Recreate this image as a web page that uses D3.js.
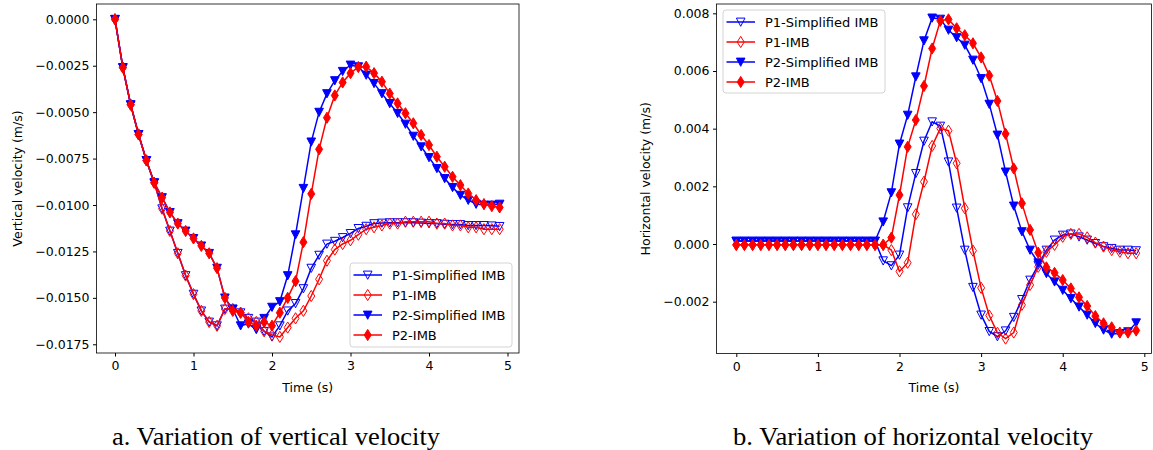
<!DOCTYPE html>
<html>
<head>
<meta charset="utf-8">
<script src="https://cdn.jsdelivr.net/npm/d3@7"></script>
<style>
  body { margin: 0; background: #fff; }
  text { font-family: "DejaVu Sans", sans-serif; fill: #000; }
  text.caption { font-family: "Liberation Serif", "Times New Roman", serif; }
</style>
</head>
<body>
<svg id="fig" width="1153" height="450"></svg>
<script>
// time (s)
const time = [0.0, 0.1, 0.2, 0.3, 0.4, 0.5, 0.6, 0.7, 0.8, 0.9,
  1.0, 1.1, 1.2, 1.3, 1.4, 1.5, 1.6, 1.7, 1.8, 1.9,
  2.0, 2.1, 2.2, 2.3, 2.4, 2.5, 2.6, 2.7, 2.8, 2.9,
  3.0, 3.1, 3.2, 3.3, 3.4, 3.5, 3.6, 3.7, 3.8, 3.9,
  4.0, 4.1, 4.2, 4.3, 4.4, 4.5, 4.6, 4.7, 4.8, 4.9];

const seriesNames = ['P1-Simplified IMB', 'P1-IMB', 'P2-Simplified IMB', 'P2-IMB'];

// a. vertical velocity (m/s)
const vertP1Simp = [0, -0.0026, -0.0046, -0.0062, -0.0076, -0.0088, -0.0102, -0.0114, -0.0126, -0.0138,
  -0.0148, -0.0157, -0.0163, -0.0165, -0.0156, -0.0156, -0.0158, -0.0161, -0.0163, -0.0168,
  -0.0171, -0.0165, -0.0157, -0.0153, -0.0145, -0.0134, -0.0127, -0.0121, -0.01195, -0.01175,
  -0.01153, -0.01126, -0.01114, -0.0110, -0.01097, -0.01095, -0.01095, -0.01095, -0.01095, -0.01097,
  -0.0110, -0.0110, -0.01103, -0.01105, -0.01105, -0.0111, -0.0111, -0.0111, -0.01112, -0.01115];
const vertP1Imb = [0, -0.0026, -0.0046, -0.0062, -0.0076, -0.0088, -0.0102, -0.0114, -0.0126, -0.0138,
  -0.0148, -0.0157, -0.0163, -0.0165, -0.0156, -0.0156, -0.0158, -0.0161, -0.0163, -0.0168,
  -0.0170, -0.0171, -0.0166, -0.0161, -0.0157, -0.0149, -0.0140, -0.0130, -0.0124, -0.0121,
  -0.0119, -0.0116, -0.0113, -0.0112, -0.0111, -0.0110, -0.0110, -0.0109, -0.0109, -0.0109,
  -0.0109, -0.0110, -0.0110, -0.0111, -0.0111, -0.0112, -0.0112, -0.0113, -0.0113, -0.0113];
const vertP2Simp = [0, -0.0026, -0.0046, -0.0062, -0.0076, -0.0088, -0.0096, -0.0104, -0.0110, -0.0114,
  -0.0118, -0.0122, -0.0126, -0.0134, -0.0150, -0.0156, -0.0165, -0.0164, -0.0167, -0.0161,
  -0.0155, -0.0152, -0.0138, -0.0116, -0.0091, -0.0066, -0.0050, -0.0040, -0.0033, -0.0028,
  -0.00246, -0.00255, -0.0030, -0.00345, -0.0040, -0.00453, -0.00506, -0.00564, -0.00629, -0.00686,
  -0.00744, -0.00803, -0.00857, -0.00905, -0.00947, -0.00974, -0.00995, -0.0100, -0.0100, -0.00995];
const vertP2Imb = [0, -0.0026, -0.0046, -0.0062, -0.0076, -0.0088, -0.0096, -0.0104, -0.0110, -0.0114,
  -0.0118, -0.0122, -0.0126, -0.0134, -0.0150, -0.0157, -0.0158, -0.0163, -0.0165, -0.0163,
  -0.0165, -0.0158, -0.0150, -0.0141, -0.0120, -0.0094, -0.0070, -0.0053, -0.0041, -0.0034,
  -0.0029, -0.00257, -0.00255, -0.0029, -0.00336, -0.0040, -0.00453, -0.00506, -0.0056, -0.00623,
  -0.00677, -0.0074, -0.00794, -0.00848, -0.00893, -0.00938, -0.00974, -0.00995, -0.01006, -0.01013];

// b. horizontal velocity (m/s)
const horP1Simp = [0.0001, 0.0001, 0.0001, 0.0001, 0.0001, 0.0001, 0.0001, 0.0001, 0.0001, 0.0001,
  0.0001, 0.0001, 0.0001, 0.0001, 0.0001, 0.0001, 0.0001, 0.0001, -0.00058, -0.00075,
  -0.00038, 0.00126, 0.00245, 0.00357, 0.00424, 0.00409, 0.00285, 0.00125, -0.00021, -0.00150,
  -0.00246, -0.00303, -0.00321, -0.00301, -0.00254, -0.00192, -0.00125, -0.00073, -0.00021, 0.00014,
  0.00031, 0.00035, 0.00025, 0.00014, 0.00002, -0.00009, -0.00015, -0.00021, -0.00021, -0.00023];
const horP1Imb = [-0.00003, -0.00003, -0.00003, -0.00003, -0.00003, -0.00003, -0.00003, -0.00003, -0.00003, -0.00003,
  -0.00003, -0.00003, -0.00003, -0.00003, -0.00003, -0.00003, -0.00003, -0.00003, -0.00003, -0.00021,
  -0.00095, -0.00065, 0.00103, 0.00216, 0.00340, 0.00401, 0.00393, 0.00280, 0.00124, -0.00023,
  -0.00152, -0.00248, -0.00308, -0.00328, -0.00307, -0.00211, -0.00142, -0.00079, -0.00027, -0.00003,
  0.00025, 0.00035, 0.00035, 0.00023, 0.00005, -0.00009, -0.00021, -0.00027, -0.00032, -0.00032];
const horP2Simp = [0.0001, 0.0001, 0.0001, 0.0001, 0.0001, 0.0001, 0.0001, 0.0001, 0.0001, 0.0001,
  0.0001, 0.0001, 0.0001, 0.0001, 0.0001, 0.0001, 0.0001, 0.0001, 0.00077, 0.00178,
  0.00347, 0.00447, 0.00580, 0.00705, 0.00784, 0.00780, 0.00742, 0.00716, 0.00690, 0.00638,
  0.00574, 0.00485, 0.00378, 0.00250, 0.00132, 0.00043, -0.00021, -0.00065, -0.00102, -0.00131,
  -0.00160, -0.00189, -0.00218, -0.00246, -0.00275, -0.00298, -0.00312, -0.00310, -0.00304, -0.00273];
const horP2Imb = [-0.00003, -0.00003, -0.00003, -0.00003, -0.00003, -0.00003, -0.00003, -0.00003, -0.00003, -0.00003,
  -0.00003, -0.00003, -0.00003, -0.00003, -0.00003, -0.00003, -0.00003, -0.00003, -0.00003, 0.00022,
  0.00170, 0.00337, 0.00430, 0.00548, 0.00678, 0.00774, 0.00779, 0.00748, 0.00724, 0.00696,
  0.00647, 0.00584, 0.00496, 0.00382, 0.00262, 0.00141, 0.00049, -0.00030, -0.00081, -0.00100,
  -0.00125, -0.00154, -0.00185, -0.00215, -0.00250, -0.00275, -0.00289, -0.00307, -0.00307, -0.00300];

// tick labels
const xTicks = [0, 1, 2, 3, 4, 5];
const vertTicks = [0, -0.0025, -0.005, -0.0075, -0.01, -0.0125, -0.015, -0.0175];
const horTicks = [0.008, 0.006, 0.004, 0.002, 0, -0.002];

const svg = d3.select('#fig');
svg.append('rect').attr('width', 1153).attr('height', 450).attr('fill', '#fff');

// marker style per series: blue/red, triangle-down / thin diamond, open / filled
const styles = [
  { color: '#0000ff', shape: 'tri', filled: false },
  { color: '#ff0000', shape: 'dia', filled: false },
  { color: '#0000ff', shape: 'tri', filled: true },
  { color: '#ff0000', shape: 'dia', filled: true }
];

function markerPath(shape) {
  if (shape === 'tri') return 'M-4.3,-3.9L4.3,-3.9L0,4.3Z';
  return 'M0,-5.6L3.5,0L0,5.6L-3.5,0Z';
}

function panel(p) {
  const g = svg.append('g');
  const x = d3.scaleLinear().domain(p.xDomain).range([p.left, p.right]);
  const y = d3.scaleLinear().domain(p.yDomain).range([p.bottom, p.top]);

  g.append('g')
    .attr('transform', `translate(0,${p.bottom})`)
    .call(d3.axisBottom(x).tickValues(xTicks).tickSize(3.5).tickPadding(5).tickFormat(d3.format('d')))
    .call(a => a.select('.domain').remove())
    .call(a => a.selectAll('text').attr('font-size', 12.5).attr('font-family', 'DejaVu Sans'));
  g.append('g')
    .attr('transform', `translate(${p.left},0)`)
    .call(d3.axisLeft(y).tickValues(p.yTicks).tickSize(3.5).tickPadding(3.5).tickFormat(d3.format(p.yFormat)))
    .call(a => a.select('.domain').remove())
    .call(a => a.selectAll('text').attr('font-size', 12.5).attr('font-family', 'DejaVu Sans'));

  const line = d3.line().x((d, i) => x(time[i])).y(d => y(d));
  p.series.forEach((s, k) => {
    const st = styles[k];
    const sg = g.append('g');
    sg.append('path').datum(s)
      .attr('d', line).attr('fill', 'none')
      .attr('stroke', st.color).attr('stroke-width', 1.5);
    sg.selectAll('path.m').data(s).join('path')
      .attr('class', 'm')
      .attr('d', markerPath(st.shape))
      .attr('transform', (d, i) => `translate(${x(time[i])},${y(d)})`)
      .attr('fill', st.filled ? st.color : 'none')
      .attr('stroke', st.color).attr('stroke-width', 1);
  });

  g.append('rect')
    .attr('x', p.left).attr('y', p.top)
    .attr('width', p.right - p.left).attr('height', p.bottom - p.top)
    .attr('fill', 'none').attr('stroke', '#000').attr('stroke-width', 0.8);

  // axis labels
  g.append('text')
    .attr('x', (p.left + p.right) / 2).attr('y', 392)
    .attr('text-anchor', 'middle').attr('font-size', 12.5)
    .text('Time (s)');
  g.append('text')
    .attr('transform', `translate(${p.ylabelX},${(p.top + p.bottom) / 2}) rotate(-90)`)
    .attr('text-anchor', 'middle').attr('font-size', 12.5)
    .text(p.ylabel);

  // legend
  const L = p.legend;
  const lg = g.append('g');
  lg.append('rect')
    .attr('x', L.x).attr('y', L.y).attr('width', L.w).attr('height', L.h)
    .attr('rx', 3).attr('fill', '#fff').attr('fill-opacity', 0.8)
    .attr('stroke', '#d4d4d4').attr('stroke-width', 1);
  seriesNames.forEach((name, k) => {
    const st = styles[k];
    const yy = L.y + 12 + k * 20;
    lg.append('line')
      .attr('x1', L.x + 3.5).attr('x2', L.x + 32).attr('y1', yy).attr('y2', yy)
      .attr('stroke', st.color).attr('stroke-width', 1.5);
    lg.append('path')
      .attr('d', markerPath(st.shape))
      .attr('transform', `translate(${L.x + 17.7},${yy})`)
      .attr('fill', st.filled ? st.color : 'none')
      .attr('stroke', st.color).attr('stroke-width', 1);
    lg.append('text')
      .attr('x', L.x + 42).attr('y', yy).attr('dy', '0.36em')
      .attr('font-size', 13).text(name);
  });

  // caption
  svg.append('text')
    .attr('class', 'caption')
    .attr('x', p.capX).attr('y', 445)
    .attr('text-anchor', 'middle')
    .attr('font-size', 26)
    .attr('textLength', p.capW).attr('lengthAdjust', 'spacingAndGlyphs')
    .text(p.caption);
}

panel({
  left: 96.5, right: 519, top: 4, bottom: 353,
  xDomain: [-0.2357, 5.1465], yDomain: [-0.017969, 0.000824],
  yTicks: vertTicks, yFormat: '.4f',
  series: [vertP1Simp, vertP1Imb, vertP2Simp, vertP2Imb],
  ylabel: 'Vertical velocity (m/s)', ylabelX: 21.5,
  legend: { x: 350, y: 263, w: 162, h: 84 },
  caption: 'a. Variation of vertical velocity', capX: 276, capW: 328
});

panel({
  left: 716.5, right: 1151.5, top: 4, bottom: 353.5,
  xDomain: [-0.2426, 5.088], yDomain: [-0.003797, 0.008323],
  yTicks: horTicks, yFormat: '.3f',
  series: [horP1Simp, horP1Imb, horP2Simp, horP2Imb],
  ylabel: 'Horizontal velocity (m/s)', ylabelX: 650,
  legend: { x: 723, y: 10, w: 162, h: 83 },
  caption: 'b. Variation of horizontal velocity', capX: 913, capW: 360
});
</script>
</body>
</html>
